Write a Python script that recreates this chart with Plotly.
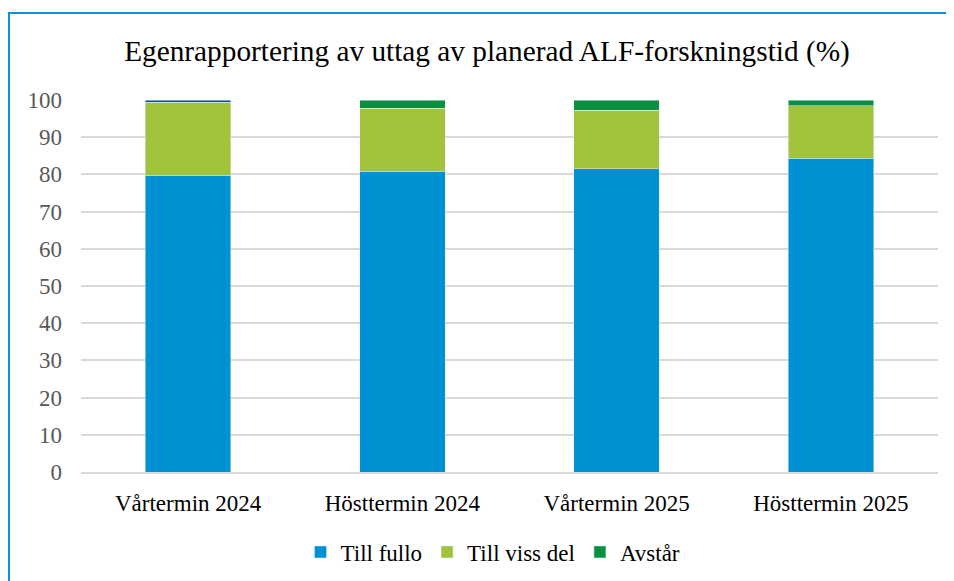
import plotly.graph_objects as go

categories = ["Vårtermin 2024", "Hösttermin 2024", "Vårtermin 2025", "Hösttermin 2025"]
till_fullo = [79.8, 80.9, 81.5, 84.4]
till_viss_del = [19.6, 16.9, 15.8, 14.1]
avstar = [None, 2.2, 2.7, 1.5]
avstar_first = [0.6, None, None, None]

serif = "Liberation Serif"

fig = go.Figure()
fig.add_trace(go.Bar(x=categories, y=till_fullo, name="Till fullo", marker_color="#0091D5"))
fig.add_trace(go.Bar(x=categories, y=till_viss_del, name="Till viss del", marker_color="#A1C43C"))
fig.add_trace(go.Bar(x=categories, y=avstar_first, name="Avstår", marker_color="#0B52A0",
                     showlegend=False))
fig.add_trace(go.Bar(x=categories, y=avstar, name="Avstår", marker_color="#0A9040"))

O = 8  # page body margin
W, H = 954 - O, 581 - O
L, T = 81 - O, 100 - O
R = W - (938 - O)
B = H - (472 - O)
pw, ph = W - L - R, H - T - B

def px(x):
    return (x - O - L) / pw

def py(y):
    return (H - B - (y - O)) / ph

fig.update_layout(
    barmode="stack",
    bargap=0.6,
    width=W, height=H,
    margin=dict(l=L, r=R, t=T, b=B, autoexpand=False),
    plot_bgcolor="white",
    paper_bgcolor="white",
    font=dict(family=serif, size=23, color="#000000"),
    title=dict(text="Egenrapportering av uttag av planerad ALF-forskningstid (%)",
               x=px(487), xanchor="center", xref="paper",
               y=1 - (51 - O) / H, yanchor="middle",
               font=dict(family=serif, size=29.3, color="#000000")),
    showlegend=True,
    legend=dict(orientation="h", x=px(493), xanchor="center", y=py(552), yanchor="middle",
                font=dict(family=serif, size=23, color="#000000"), traceorder="normal",
                itemwidth=30),
    xaxis=dict(showline=True, linecolor="#D9D9D9", linewidth=1.5, ticks="",
               ticklabelstandoff=10, automargin=False,
               tickfont=dict(family=serif, size=23, color="#000000")),
    yaxis=dict(range=[0, 100], dtick=10, showgrid=True, gridcolor="#D9D9D9", gridwidth=1.5,
               zeroline=False, ticks="", ticklen=0, ticklabelstandoff=18, automargin=False,
               tickfont=dict(family=serif, size=23, color="#595959")),
    shapes=[dict(type="rect", xref="paper", yref="paper",
                 x0=px(9), x1=px(1000), y0=py(13), y1=py(620),
                 line=dict(color="#0096D6", width=2), fillcolor="rgba(0,0,0,0)", layer="below")],
)

fig.write_html("out.html")
